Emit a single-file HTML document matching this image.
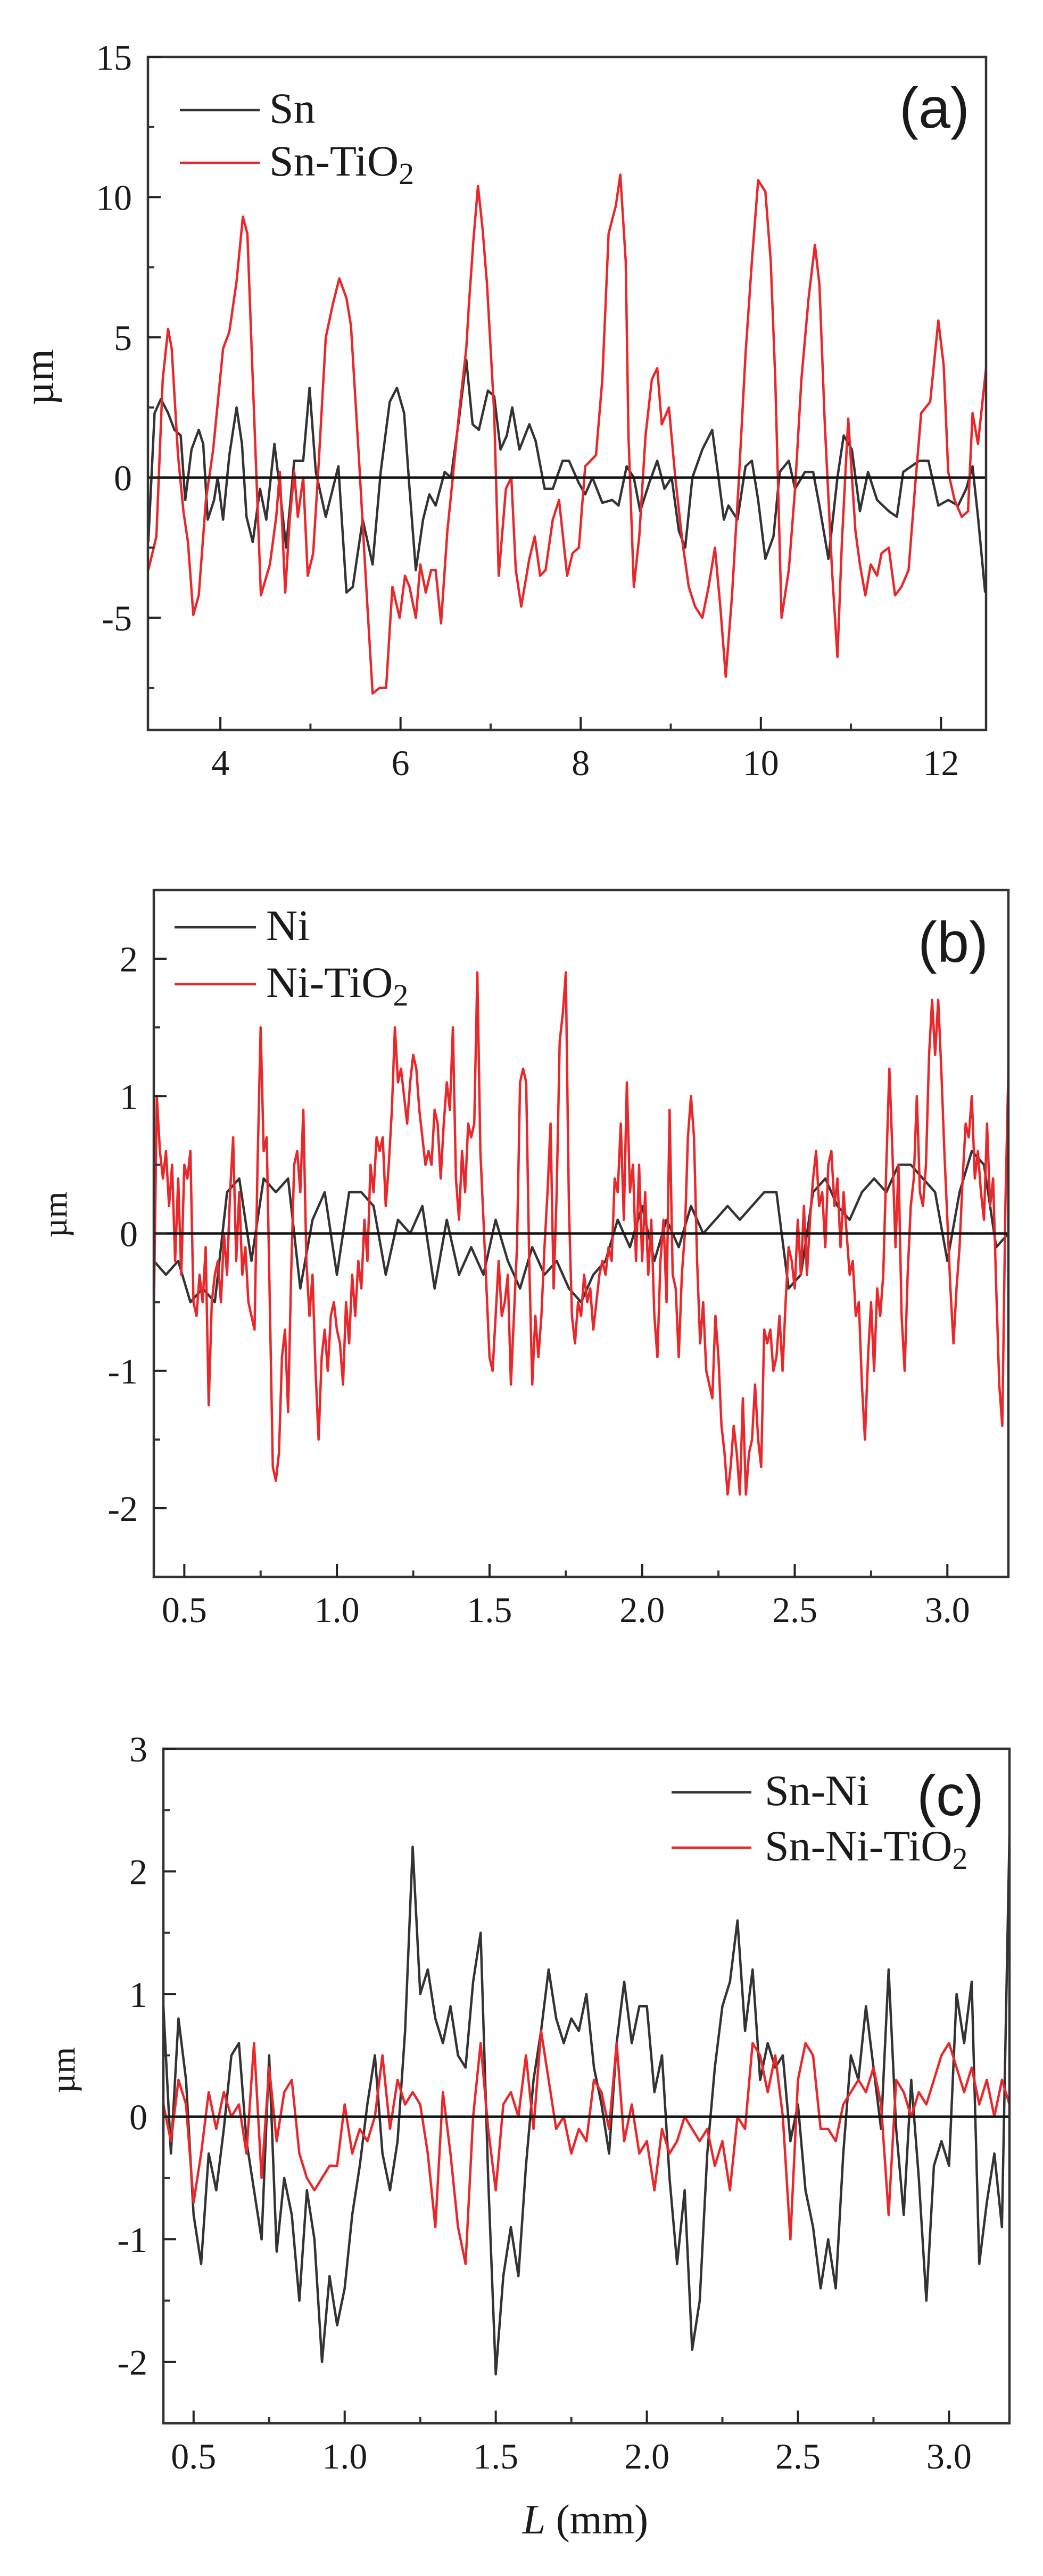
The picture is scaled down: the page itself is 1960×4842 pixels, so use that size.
<!DOCTYPE html>
<html><head><meta charset="utf-8"><style>
html,body{margin:0;padding:0;background:#fff}
svg{display:block}
text{font-family:"Liberation Serif",serif;fill:#1a1a1a}
.sans{font-family:"Liberation Sans",sans-serif}
</style></head>
<body>
<svg id="fig" width="1960" height="4842" viewBox="0 0 1960 4842" xmlns="http://www.w3.org/2000/svg"></svg>
<script>
// ---------- Panel (a) data ----------
const snPoints = [[3.20,-2.3],[3.27,2.3],[3.34,2.8],[3.42,2.3],[3.49,1.7],[3.56,1.5],[3.61,-0.8],[3.68,1.0],[3.76,1.7],[3.81,1.2],[3.86,-1.5],[3.93,-0.8],[3.97,0],[4.03,-1.5],[4.10,0.8],[4.18,2.5],[4.24,1.2],[4.29,-1.4],[4.36,-2.3],[4.44,-0.4],[4.51,-1.5],[4.60,1.2],[4.66,-0.4],[4.73,-2.5],[4.82,0.6],[4.92,0.6],[4.99,3.2],[5.06,0.2],[5.17,-1.4],[5.31,0.4],[5.40,-4.1],[5.47,-3.9],[5.58,-1.5],[5.69,-3.1],[5.78,0.2],[5.88,2.7],[5.96,3.2],[6.04,2.3],[6.10,-0.4],[6.17,-3.3],[6.25,-1.5],[6.32,-0.6],[6.39,-1.0],[6.49,0.2],[6.56,0],[6.65,2.1],[6.73,4.2],[6.80,1.9],[6.87,1.7],[6.97,3.1],[7.04,2.9],[7.11,1.0],[7.18,1.5],[7.24,2.5],[7.32,1.0],[7.43,1.9],[7.50,1.3],[7.60,-0.4],[7.69,-0.4],[7.80,0.6],[7.87,0.6],[7.98,-0.2],[8.05,-0.6],[8.13,0],[8.24,-0.9],[8.35,-0.8],[8.42,-1.0],[8.51,0.4],[8.59,0],[8.66,-1.2],[8.76,-0.2],[8.85,0.6],[8.93,-0.4],[9.01,0],[9.09,-1.9],[9.16,-2.5],[9.24,0],[9.35,1.0],[9.46,1.7],[9.53,0],[9.59,-1.5],[9.64,-1.0],[9.74,-1.5],[9.83,0.4],[9.90,0.6],[9.97,-0.8],[10.05,-2.9],[10.14,-2.1],[10.21,0.2],[10.31,0.6],[10.38,-0.4],[10.49,0.2],[10.58,0.2],[10.65,-1.0],[10.75,-2.9],[10.85,0],[10.92,1.5],[11.01,1.0],[11.10,-1.2],[11.19,0.2],[11.29,-0.8],[11.42,-1.2],[11.51,-1.4],[11.58,0.2],[11.67,0.4],[11.76,0.6],[11.86,0.6],[11.97,-1.0],[12.08,-0.8],[12.19,-1.0],[12.28,-0.4],[12.35,0.4],[12.41,-1.4],[12.49,-4.1]];
const snTiO2Points = [[3.20,-3.3],[3.29,-2.1],[3.36,3.5],[3.42,5.3],[3.46,4.6],[3.53,0.8],[3.59,-1.2],[3.64,-2.3],[3.70,-4.9],[3.76,-4.2],[3.84,-0.8],[3.92,1.0],[4.03,4.6],[4.10,5.2],[4.18,7.0],[4.25,9.3],[4.30,8.7],[4.36,3.5],[4.45,-4.2],[4.55,-3.1],[4.62,-1.4],[4.66,0.2],[4.72,-4.1],[4.77,-1.5],[4.82,0.2],[4.86,-1.4],[4.92,0],[4.97,-3.5],[5.03,-2.7],[5.09,0.4],[5.17,5.0],[5.25,6.2],[5.32,7.1],[5.40,6.4],[5.45,5.4],[5.54,0.6],[5.62,-3.9],[5.69,-7.7],[5.77,-7.5],[5.84,-7.5],[5.91,-3.9],[5.99,-5.0],[6.05,-3.5],[6.10,-3.9],[6.17,-5.0],[6.22,-3.1],[6.28,-4.1],[6.34,-3.3],[6.39,-3.3],[6.45,-5.2],[6.52,-1.9],[6.58,0],[6.65,2.3],[6.73,4.6],[6.76,6.2],[6.81,8.5],[6.86,10.4],[6.91,8.9],[6.96,6.9],[7.04,2.3],[7.09,-3.5],[7.17,-0.4],[7.23,0],[7.28,-3.3],[7.34,-4.6],[7.43,-2.9],[7.49,-2.1],[7.55,-3.5],[7.61,-3.3],[7.69,-1.5],[7.76,-0.8],[7.85,-3.5],[7.91,-2.7],[7.98,-2.5],[8.05,0.4],[8.17,0.8],[8.24,3.5],[8.31,8.7],[8.39,9.7],[8.44,10.8],[8.50,7.7],[8.53,1.5],[8.59,-3.9],[8.65,-2.1],[8.72,1.5],[8.79,3.5],[8.85,3.9],[8.90,1.9],[8.98,2.5],[9.05,0],[9.13,-2.3],[9.20,-3.9],[9.27,-4.6],[9.35,-5.0],[9.42,-3.9],[9.49,-2.5],[9.55,-4.6],[9.61,-7.1],[9.68,-4.2],[9.75,-0.4],[9.83,4.4],[9.90,7.7],[9.97,10.6],[10.05,10.2],[10.11,7.7],[10.16,3.5],[10.23,-5.0],[10.31,-3.3],[10.38,-0.4],[10.45,3.5],[10.53,6.4],[10.60,8.3],[10.65,6.9],[10.71,1.9],[10.79,-3.3],[10.85,-6.4],[10.90,-2.3],[10.97,2.1],[11.05,-1.9],[11.10,-3.1],[11.16,-4.2],[11.22,-3.1],[11.29,-3.5],[11.34,-2.7],[11.42,-2.5],[11.49,-4.2],[11.56,-3.9],[11.64,-3.3],[11.71,-0.4],[11.78,2.3],[11.88,2.7],[11.97,5.6],[12.03,4.0],[12.08,0.2],[12.15,-0.8],[12.23,-1.4],[12.30,-1.2],[12.35,2.3],[12.41,1.2],[12.50,3.9]];
const aXTicks = [4,6,8,10,12];
const aYTicks = [-5,0,5,10,15];

// ---------- Panel (b) data ----------
const niPoints = [[0.40,-0.2],[0.44,-0.3],[0.48,-0.2],[0.52,-0.5],[0.56,-0.4],[0.60,-0.5],[0.64,0.3],[0.68,0.4],[0.72,-0.2],[0.76,0.4],[0.80,0.3],[0.84,0.4],[0.88,-0.4],[0.92,0.1],[0.96,0.3],[1.00,-0.3],[1.04,0.3],[1.08,0.3],[1.12,0.2],[1.16,-0.3],[1.20,0.1],[1.24,0.0],[1.28,0.2],[1.32,-0.4],[1.36,0.1],[1.40,-0.3],[1.44,-0.1],[1.48,-0.3],[1.52,0.1],[1.56,-0.2],[1.60,-0.4],[1.64,-0.1],[1.68,-0.3],[1.72,-0.2],[1.76,-0.4],[1.80,-0.5],[1.84,-0.3],[1.88,-0.2],[1.92,0.1],[1.96,-0.1],[2.00,0.2],[2.04,-0.2],[2.08,0.1],[2.12,-0.1],[2.16,0.2],[2.20,0.0],[2.24,0.1],[2.28,0.2],[2.32,0.1],[2.36,0.2],[2.40,0.3],[2.44,0.3],[2.48,-0.4],[2.52,-0.3],[2.56,0.3],[2.60,0.4],[2.64,0.2],[2.68,0.1],[2.72,0.3],[2.76,0.4],[2.80,0.3],[2.84,0.5],[2.88,0.5],[2.92,0.4],[2.96,0.3],[3.00,-0.2],[3.04,0.3],[3.08,0.6],[3.12,0.5],[3.16,-0.1],[3.20,0.0]];
const niTiO2Points = [[0.40,-0.6],[0.41,1.0],[0.42,0.6],[0.43,0.4],[0.44,0.6],[0.45,0.2],[0.46,0.5],[0.47,-0.2],[0.48,0.4],[0.49,-0.3],[0.50,0.5],[0.51,0.4],[0.52,0.6],[0.53,-0.5],[0.54,-0.6],[0.55,-0.3],[0.56,-0.5],[0.57,-0.1],[0.58,-1.25],[0.59,-0.5],[0.60,-0.3],[0.61,-0.2],[0.62,-0.5],[0.63,0],[0.64,-0.3],[0.65,0.3],[0.66,0.7],[0.67,-0.2],[0.68,0.3],[0.69,-0.3],[0.70,-0.1],[0.71,-0.5],[0.72,-0.6],[0.73,-0.7],[0.74,0.5],[0.75,1.5],[0.76,0.6],[0.77,0.7],[0.78,-0.5],[0.79,-1.7],[0.80,-1.8],[0.81,-1.6],[0.82,-0.9],[0.83,-0.7],[0.84,-1.3],[0.85,-0.3],[0.86,0.5],[0.87,0.6],[0.88,0.3],[0.89,0.9],[0.90,-0.2],[0.91,-0.6],[0.92,-0.3],[0.93,-1.0],[0.94,-1.5],[0.95,-0.9],[0.96,-0.7],[0.97,-1.0],[0.98,-0.6],[0.99,-0.5],[1.00,-0.7],[1.01,-0.8],[1.02,-1.1],[1.03,-0.5],[1.04,-0.8],[1.05,-0.3],[1.06,-0.6],[1.07,-0.2],[1.08,-0.4],[1.09,0.1],[1.10,-0.2],[1.11,0.5],[1.12,0.3],[1.13,0.7],[1.14,0.6],[1.15,0.7],[1.16,0.2],[1.17,0.5],[1.18,0.9],[1.19,1.5],[1.20,1.1],[1.21,1.2],[1.22,1.0],[1.23,0.8],[1.24,1.1],[1.25,1.3],[1.26,1.2],[1.27,0.9],[1.28,0.7],[1.29,0.5],[1.30,0.6],[1.31,0.5],[1.32,0.9],[1.33,0.8],[1.34,0.4],[1.35,0.8],[1.36,1.1],[1.37,0.9],[1.38,1.5],[1.39,0.4],[1.40,0.1],[1.41,0.6],[1.42,0.3],[1.43,0.8],[1.44,0.7],[1.45,0.8],[1.46,1.9],[1.47,0.6],[1.48,0.1],[1.49,-0.4],[1.50,-0.9],[1.51,-1.0],[1.52,-0.6],[1.53,-0.2],[1.54,-0.6],[1.55,-0.5],[1.56,-0.3],[1.57,-1.1],[1.58,-0.6],[1.59,-0.1],[1.60,1.1],[1.61,1.2],[1.62,1.1],[1.63,-0.2],[1.64,-1.1],[1.65,-0.6],[1.66,-0.9],[1.67,-0.6],[1.68,-0.1],[1.69,0.3],[1.70,0.8],[1.71,-0.4],[1.72,0.3],[1.73,1.4],[1.74,1.6],[1.75,1.9],[1.76,0.2],[1.77,-0.6],[1.78,-0.8],[1.79,-0.5],[1.80,-0.6],[1.81,-0.3],[1.82,-0.5],[1.83,-0.4],[1.84,-0.7],[1.85,-0.5],[1.86,-0.3],[1.87,-0.2],[1.88,-0.3],[1.89,-0.1],[1.90,-0.2],[1.91,0.4],[1.92,0.3],[1.93,0.8],[1.94,0.1],[1.95,1.1],[1.96,0.3],[1.97,0.5],[1.98,-0.2],[1.99,0.5],[2.00,-0.2],[2.01,0.3],[2.02,-0.3],[2.03,0.1],[2.04,-0.6],[2.05,-0.9],[2.06,-0.2],[2.07,0.1],[2.08,-0.5],[2.09,0.9],[2.10,-0.3],[2.11,-0.4],[2.12,-0.9],[2.13,-0.3],[2.14,0],[2.15,0.7],[2.16,1.0],[2.17,0.7],[2.18,-0.2],[2.19,-0.8],[2.20,-0.5],[2.21,-1.0],[2.22,-1.1],[2.23,-1.2],[2.24,-0.6],[2.25,-0.9],[2.26,-1.4],[2.27,-1.6],[2.28,-1.9],[2.29,-1.7],[2.30,-1.4],[2.31,-1.6],[2.32,-1.9],[2.33,-1.2],[2.34,-1.9],[2.35,-1.6],[2.36,-1.5],[2.37,-1.1],[2.38,-1.5],[2.39,-1.7],[2.40,-0.7],[2.41,-0.8],[2.42,-0.7],[2.43,-1.0],[2.44,-0.9],[2.45,-0.6],[2.46,-1.0],[2.47,-0.5],[2.48,-0.1],[2.49,-0.2],[2.50,-0.4],[2.51,0.1],[2.52,-0.3],[2.53,0.2],[2.54,-0.3],[2.55,0.1],[2.56,0.4],[2.57,0.6],[2.58,0.2],[2.59,0.3],[2.60,-0.1],[2.61,0.5],[2.62,0.6],[2.63,0.2],[2.64,0.4],[2.65,-0.1],[2.66,0.3],[2.67,0.0],[2.68,-0.3],[2.69,-0.2],[2.70,-0.6],[2.71,-0.5],[2.72,-1.1],[2.73,-1.5],[2.74,-0.9],[2.75,-0.5],[2.76,-1.0],[2.77,-0.4],[2.78,-0.6],[2.79,-0.3],[2.80,0.5],[2.81,1.2],[2.82,0.6],[2.83,-0.1],[2.84,0.5],[2.85,-0.6],[2.86,-1.0],[2.87,-0.3],[2.88,0.2],[2.89,0.4],[2.90,1.0],[2.91,0.3],[2.92,0.2],[2.93,0.5],[2.94,1.3],[2.95,1.7],[2.96,1.3],[2.97,1.7],[2.98,1.2],[2.99,0.6],[3.00,0.1],[3.01,-0.4],[3.02,-0.8],[3.03,-0.4],[3.04,-0.1],[3.05,0.4],[3.06,0.8],[3.07,0.7],[3.08,1.0],[3.09,0.4],[3.10,0.6],[3.11,0.3],[3.12,0.1],[3.13,0.8],[3.14,0.2],[3.15,0.4],[3.16,-0.4],[3.17,-1.1],[3.18,-1.4],[3.19,0.2],[3.20,1.2]];
const bXTicks = [0.5,1.0,1.5,2.0,2.5,3.0];
const bYTicks = [-2,-1,0,1,2];

// ---------- Panel (c) data ----------
const snNiPoints = [[0.400,0.9],[0.425,-0.3],[0.450,0.8],[0.475,0.3],[0.500,-0.8],[0.525,-1.2],[0.550,-0.3],[0.575,-0.6],[0.600,-0.1],[0.625,0.5],[0.650,0.6],[0.675,-0.2],[0.700,-0.6],[0.725,-1.0],[0.750,0.5],[0.775,-1.1],[0.800,-0.5],[0.825,-0.8],[0.850,-1.5],[0.875,-0.6],[0.900,-1.0],[0.925,-2.0],[0.950,-1.3],[0.975,-1.7],[1.000,-1.4],[1.025,-0.8],[1.050,-0.4],[1.075,0.1],[1.100,0.5],[1.125,-0.3],[1.150,-0.6],[1.175,-0.2],[1.200,0.7],[1.225,2.2],[1.250,1.0],[1.275,1.2],[1.300,0.8],[1.325,0.6],[1.350,0.9],[1.375,0.5],[1.400,0.4],[1.425,1.1],[1.450,1.5],[1.475,-0.5],[1.500,-2.1],[1.525,-1.3],[1.550,-0.9],[1.575,-1.3],[1.600,-0.4],[1.625,0.3],[1.650,0.7],[1.675,1.2],[1.700,0.8],[1.725,0.6],[1.750,0.8],[1.775,0.7],[1.800,1.0],[1.825,0.4],[1.850,0.1],[1.875,-0.3],[1.900,0.6],[1.925,1.1],[1.950,0.6],[1.975,0.9],[2.000,0.9],[2.025,0.2],[2.050,0.5],[2.075,-0.5],[2.100,-1.2],[2.125,-0.6],[2.150,-1.9],[2.175,-1.5],[2.200,-0.3],[2.225,0.4],[2.250,0.9],[2.275,1.1],[2.300,1.6],[2.325,0.7],[2.350,1.2],[2.375,0.3],[2.400,0.6],[2.425,0.4],[2.450,0.5],[2.475,-0.2],[2.500,0.1],[2.525,-0.6],[2.550,-0.9],[2.575,-1.4],[2.600,-1.0],[2.625,-1.4],[2.650,-0.3],[2.675,0.5],[2.700,0.3],[2.725,0.9],[2.750,0.4],[2.775,-0.1],[2.800,1.2],[2.825,-0.1],[2.850,-0.8],[2.875,0.3],[2.900,-0.5],[2.925,-1.5],[2.950,-0.4],[2.975,-0.2],[3.000,-0.4],[3.025,1.0],[3.050,0.6],[3.075,1.1],[3.100,-1.2],[3.125,-0.7],[3.150,-0.3],[3.175,-0.9],[3.200,2.3]];
const snNiTiO2Points = [[0.400,0.1],[0.425,-0.2],[0.450,0.3],[0.475,0.1],[0.500,-0.7],[0.525,-0.3],[0.550,0.2],[0.575,-0.1],[0.600,0.2],[0.625,0.0],[0.650,0.1],[0.675,-0.3],[0.700,0.6],[0.725,-0.5],[0.750,0.4],[0.775,-0.2],[0.800,0.2],[0.825,0.3],[0.850,-0.3],[0.875,-0.5],[0.900,-0.6],[0.925,-0.5],[0.950,-0.4],[0.975,-0.4],[1.000,0.1],[1.025,-0.3],[1.050,-0.1],[1.075,-0.2],[1.100,0.0],[1.125,0.5],[1.150,-0.1],[1.175,0.3],[1.200,0.1],[1.225,0.2],[1.250,0.1],[1.275,-0.3],[1.300,-0.9],[1.325,0.2],[1.350,-0.3],[1.375,-0.9],[1.400,-1.2],[1.425,0.0],[1.450,0.6],[1.475,-0.1],[1.500,-0.6],[1.525,0.1],[1.550,0.2],[1.575,0.0],[1.600,0.5],[1.625,-0.1],[1.650,0.7],[1.675,0.3],[1.700,-0.1],[1.725,0.0],[1.750,-0.3],[1.775,-0.1],[1.800,-0.2],[1.825,0.3],[1.850,0.2],[1.875,-0.1],[1.900,0.6],[1.925,-0.2],[1.950,0.1],[1.975,-0.3],[2.000,-0.2],[2.025,-0.6],[2.050,-0.1],[2.075,-0.3],[2.100,-0.2],[2.125,0.0],[2.150,-0.1],[2.175,-0.2],[2.200,-0.1],[2.225,-0.4],[2.250,-0.2],[2.275,-0.6],[2.300,0.0],[2.325,-0.1],[2.350,0.6],[2.375,0.5],[2.400,0.2],[2.425,0.5],[2.450,0.0],[2.475,-1.0],[2.500,0.3],[2.525,0.6],[2.550,0.5],[2.575,-0.1],[2.600,-0.1],[2.625,-0.2],[2.650,0.1],[2.675,0.2],[2.700,0.3],[2.725,0.2],[2.750,0.4],[2.775,0.1],[2.800,-0.8],[2.825,0.3],[2.850,0.2],[2.875,0.0],[2.900,0.2],[2.925,0.1],[2.950,0.3],[2.975,0.5],[3.000,0.6],[3.025,0.4],[3.050,0.2],[3.075,0.4],[3.100,0.1],[3.125,0.3],[3.150,0.0],[3.175,0.3],[3.200,0.1]];
const cXTicks = [0.5,1.0,1.5,2.0,2.5,3.0];
const cYTicks = [-2,-1,0,1,2,3];

const NS = 'http://www.w3.org/2000/svg';
const svg = document.getElementById('fig');
function mk(tag, attrs, parent){
  const e = document.createElementNS(NS, tag);
  for (const k in attrs) e.setAttribute(k, attrs[k]);
  (parent||svg).appendChild(e);
  return e;
}
function fmt(v, dec){ return dec ? v.toFixed(dec) : String(v); }

function panel(cfg){
  const g = mk('g', {});
  
  
  const X = v => cfg.left + (v - cfg.xmin) / (cfg.xmax - cfg.xmin) * (cfg.right - cfg.left);
  const Y = v => cfg.bottom - (v - cfg.ymin) / (cfg.ymax - cfg.ymin) * (cfg.bottom - cfg.top);
  const clip = mk('clipPath', {id: cfg.name + '-clip'}, g);
  mk('rect', {x: cfg.left, y: cfg.top, width: cfg.right - cfg.left, height: cfg.bottom - cfg.top}, clip);
  cfg.series.forEach(s => {
    const d = s.points.map((p, i) => (i ? 'L' : 'M') + X(p[0]).toFixed(1) + ' ' + Y(p[1]).toFixed(1)).join(' ');
    const path = mk('path', {d: d, fill: 'none', stroke: s.color, 'stroke-width': 4.5, 'stroke-linejoin': 'round', 'clip-path': 'url(#' + cfg.name + '-clip)'}, g);
    
    
  });
  const z = mk('line', {x1: cfg.left, x2: cfg.right, y1: Y(0), y2: Y(0), stroke: '#111', 'stroke-width': 4.5}, g);
  
  
  const fr = mk('rect', {x: cfg.left, y: cfg.top, width: cfg.right - cfg.left, height: cfg.bottom - cfg.top, fill: 'none', stroke: '#333', 'stroke-width': 4.5}, g);
  
  
  cfg.xTicks.forEach(t => {
    mk('line', {x1: X(t), x2: X(t), y1: cfg.bottom, y2: cfg.bottom - 24, stroke: '#222', 'stroke-width': 4}, g);
    const tx = mk('text', {x: X(t), y: cfg.bottom + 85, 'font-size': 68, 'text-anchor': 'middle'}, g);
    tx.textContent = fmt(t, cfg.xDec);
    
    
  });
  cfg.xMinor.forEach(t => {
    mk('line', {x1: X(t), x2: X(t), y1: cfg.bottom, y2: cfg.bottom - 12, stroke: '#333', 'stroke-width': 4}, g);
  });
  cfg.yTicks.forEach(t => {
    mk('line', {x1: cfg.left, x2: cfg.left + 24, y1: Y(t), y2: Y(t), stroke: '#222', 'stroke-width': 4}, g);
    const ty = mk('text', {x: cfg.left - 30, y: Y(t) + 24, 'font-size': 68, 'text-anchor': 'end'}, g);
    ty.textContent = String(t);
    
    
  });
  cfg.yMinor.forEach(t => {
    mk('line', {x1: cfg.left, x2: cfg.left + 12, y1: Y(t), y2: Y(t), stroke: '#333', 'stroke-width': 4}, g);
  });
  const yt = mk('text', {x: cfg.ytx, y: cfg.yty, 'font-size': cfg.ytSize, 'text-anchor': 'middle', transform: 'rotate(-90 ' + cfg.ytx + ' ' + cfg.yty + ')'}, g);
  yt.textContent = 'µm';
  
  
  cfg.series.forEach((s, i) => {
    const ly = cfg.legY[i];
    const ll = mk('line', {x1: cfg.legX1, x2: cfg.legX2, y1: ly, y2: ly, stroke: s.color, 'stroke-width': 4.5}, g);
    
    
    const lt = mk('text', {x: cfg.legTX, y: ly + 24, 'font-size': 82}, g);
    
    
    if (s.sub) {
      lt.appendChild(document.createTextNode(s.label));
      const sp = mk('tspan', {'font-size': 58, dy: 16}, lt);
      sp.textContent = '2';
    } else {
      lt.textContent = s.label;
    }
  });
  const pt = mk('text', {x: cfg.tagX, y: cfg.tagY, 'font-size': 108, 'text-anchor': 'middle', class: 'sans'}, g);
  pt.textContent = cfg.tag;
  
  
  return {X, Y};
}

panel({name: 'panel-a', left: 278, right: 1853, top: 107, bottom: 1372,
  xmin: 3.196, xmax: 12.5, ymin: -9, ymax: 15,
  xTicks: aXTicks, xMinor: [5,7,9,11], xDec: 0,
  yTicks: aYTicks, yMinor: [-7.5,-2.5,2.5,7.5,12.5],
  ytx: 100, yty: 709, ytSize: 78,
  series: [{id: 'sn', label: 'Sn', color: '#333', points: snPoints},
           {id: 'sn-tio2', label: 'Sn-TiO', sub: true, color: '#e8282b', points: snTiO2Points}],
  legX1: 338, legX2: 488, legY: [207, 306], legTX: 506,
  tag: '(a)', tagX: 1756, tagY: 240});

panel({name: 'panel-b', left: 289, right: 1895, top: 1673, bottom: 2964,
  xmin: 0.4, xmax: 3.2, ymin: -2.5, ymax: 2.5,
  xTicks: bXTicks, xMinor: [0.75,1.25,1.75,2.25,2.75], xDec: 1,
  yTicks: bYTicks, yMinor: [-1.5,-0.5,0.5,1.5],
  ytx: 125, yty: 2283, ytSize: 64,
  series: [{id: 'ni', label: 'Ni', color: '#333', points: niPoints},
           {id: 'ni-tio2', label: 'Ni-TiO', sub: true, color: '#e8282b', points: niTiO2Points}],
  legX1: 328, legX2: 481, legY: [1743, 1850], legTX: 500,
  tag: '(b)', tagX: 1791, tagY: 1808});

panel({name: 'panel-c', left: 307, right: 1897, top: 3287, bottom: 4555,
  xmin: 0.4, xmax: 3.2, ymin: -2.5, ymax: 3,
  xTicks: cXTicks, xMinor: [0.75,1.25,1.75,2.25,2.75], xDec: 1,
  yTicks: cYTicks, yMinor: [-1.5,-0.5,0.5,1.5,2.5],
  ytx: 140, yty: 3891, ytSize: 64,
  series: [{id: 'sn-ni', label: 'Sn-Ni', color: '#333', points: snNiPoints},
           {id: 'sn-ni-tio2', label: 'Sn-Ni-TiO', sub: true, color: '#e8282b', points: snNiTiO2Points}],
  legX1: 1262, legX2: 1412, legY: [3369, 3473], legTX: 1437,
  tag: '(c)', tagX: 1786, tagY: 3412});

const xt = mk('text', {x: 1100, y: 4762, 'font-size': 78, 'text-anchor': 'middle'});


const it = mk('tspan', {'font-style': 'italic'}, xt);
it.textContent = 'L';
xt.appendChild(document.createTextNode(' (mm)'));
</script>
</body></html>
